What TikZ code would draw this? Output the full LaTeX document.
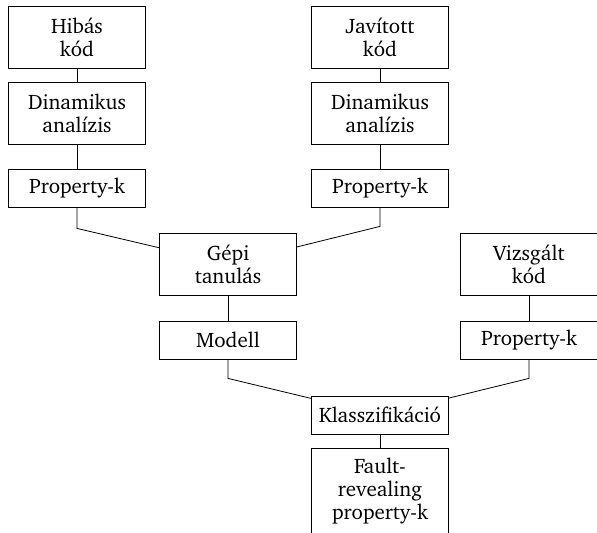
\documentclass[tikz,border=0pt]{standalone}
\usepackage[T1]{fontenc}
\usepackage{charter}
\begin{document}
\begin{tikzpicture}[x=0.5pt,y=-0.5pt,
	box/.style={draw,minimum width=68.5pt,align=center,inner sep=0pt,font=\fontsize{10.5}{11.5}\selectfont},
	onebox/.style={box,minimum height=19pt},
	twobox/.style={box,minimum height=31pt}]
	\path[use as bounding box,clip] (0,0) rectangle (597,533);

	\node[twobox] (hibas) at (77,37) {Hibás\\kód};
	\node[twobox] (dinL) at (77,113) {Dinamikus\\analízis};
	\node[onebox] (propL) at (77,188) {Property-k};
	\node[twobox] (javitott) at (380,37) {Javított\\kód};
	\node[twobox] (dinR) at (380,113) {Dinamikus\\analízis};
	\node[onebox] (propR) at (380,188) {Property-k};

	\node[twobox] (gepi) at (228,264) {Gépi\\tanulás};
	\node[onebox] (modell) at (228,340) {Modell};
	\node[twobox] (vizsgalt) at (529,264) {Vizsgált\\kód};
	\node[onebox] (propV) at (529,340) {Property-k};

	\node[onebox] (klassz) at (380,415) {Klasszifikáció};
	\node[box,minimum height=43pt] (fault) at (380,491) {Fault-\\revealing\\property-k};

	\draw (hibas) -- (dinL);
	\draw (dinL) -- (propL);
	\draw (javitott) -- (dinR);
	\draw (dinR) -- (propR);
	\draw (propL.south) -- ++(0,21) -- (gepi);
	\draw (propR.south) -- ++(0,19) -- (gepi);
	\draw (gepi) -- (modell);
	\draw (vizsgalt) -- (propV);
	\draw (modell.south) -- ++(0,19) -- (klassz);
	\draw (propV.south) -- ++(0,19) -- (klassz);
	\draw (klassz) -- (fault);
\end{tikzpicture}
\end{document}
